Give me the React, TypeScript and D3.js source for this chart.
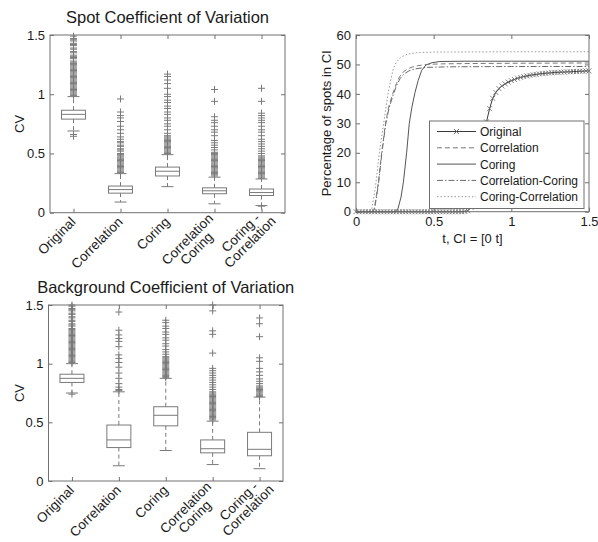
import React, { useEffect, useRef } from "react";
import * as d3 from "d3";

const fontFamily = "'Liberation Sans', Arial, sans-serif";
const frameColor = "#707070";
const markColor = "#7a7a7a";
const textColor = "#1a1a1a";

// box plot categories (multi-line tick labels)
const categoryLabels = [["Original"], ["Correlation"], ["Coring"], ["Correlation", "Coring"], ["Coring -", "Correlation"]];
const cvTicks = [0, 0.5, 1, 1.5];

// Spot coefficient of variation
const spotLow = [0.69, 0.09, 0.22, 0.075, 0.06];
const spotQ1 = [0.79, 0.165, 0.31, 0.16, 0.145];
const spotMedian = [0.83, 0.195, 0.35, 0.185, 0.17];
const spotQ3 = [0.865, 0.225, 0.385, 0.21, 0.2];
const spotHigh = [0.98, 0.33, 0.49, 0.3, 0.285];
const spotOutliers = [
  [0.645, 0.66, 0.99, 1.0, 1.01, 1.02, 1.03, 1.04, 1.05, 1.06, 1.07, 1.08, 1.09, 1.1, 1.11, 1.12, 1.13, 1.14, 1.15, 1.16, 1.17, 1.18, 1.19, 1.2, 1.21, 1.22, 1.23, 1.24, 1.25, 1.26, 1.27, 1.28, 1.3, 1.31, 1.32, 1.33, 1.35, 1.36, 1.38, 1.39, 1.41, 1.42, 1.43, 1.45, 1.46, 1.47, 1.49],
  [0.34, 0.35, 0.36, 0.37, 0.38, 0.39, 0.4, 0.41, 0.42, 0.43, 0.44, 0.45, 0.46, 0.47, 0.48, 0.49, 0.5, 0.52, 0.53, 0.54, 0.56, 0.57, 0.59, 0.6, 0.62, 0.64, 0.67, 0.7, 0.73, 0.77, 0.8, 0.82, 0.85, 0.96],
  [0.5, 0.51, 0.52, 0.53, 0.54, 0.55, 0.56, 0.57, 0.58, 0.59, 0.6, 0.61, 0.62, 0.63, 0.64, 0.65, 0.67, 0.7, 0.73, 0.75, 0.78, 0.8, 0.83, 0.85, 0.88, 0.9, 0.93, 0.95, 0.98, 1.0, 1.05, 1.09, 1.12, 1.15, 1.17],
  [0.31, 0.32, 0.33, 0.34, 0.35, 0.36, 0.37, 0.38, 0.39, 0.4, 0.41, 0.42, 0.43, 0.44, 0.45, 0.46, 0.47, 0.48, 0.49, 0.5, 0.51, 0.53, 0.55, 0.57, 0.59, 0.61, 0.65, 0.68, 0.7, 0.73, 0.76, 0.78, 0.81, 0.94, 1.04],
  [0.055, 0.29, 0.3, 0.31, 0.32, 0.33, 0.34, 0.35, 0.36, 0.37, 0.38, 0.39, 0.4, 0.41, 0.42, 0.43, 0.44, 0.45, 0.46, 0.47, 0.48, 0.5, 0.52, 0.54, 0.56, 0.58, 0.6, 0.62, 0.65, 0.68, 0.7, 0.73, 0.76, 0.78, 0.8, 0.82, 0.84, 0.94, 1.05],
];

// Background coefficient of variation
const bgLow = [0.75, 0.13, 0.26, 0.14, 0.105];
const bgQ1 = [0.84, 0.285, 0.47, 0.24, 0.215];
const bgMedian = [0.875, 0.35, 0.56, 0.275, 0.27];
const bgQ3 = [0.91, 0.477, 0.633, 0.35, 0.415];
const bgHigh = [1.0, 0.76, 0.875, 0.51, 0.715];
const bgOutliers = [
  [0.74, 1.01, 1.02, 1.03, 1.04, 1.05, 1.06, 1.07, 1.08, 1.09, 1.1, 1.11, 1.12, 1.13, 1.14, 1.15, 1.16, 1.17, 1.18, 1.19, 1.2, 1.21, 1.22, 1.23, 1.24, 1.25, 1.26, 1.27, 1.28, 1.29, 1.3, 1.32, 1.33, 1.34, 1.36, 1.37, 1.39, 1.4, 1.42, 1.43, 1.45, 1.46, 1.47, 1.49, 1.5],
  [0.77, 0.78, 0.8, 0.83, 0.875, 0.92, 0.97, 1.01, 1.045, 1.075, 1.145, 1.19, 1.215, 1.245, 1.285, 1.44],
  [0.88, 0.89, 0.9, 0.91, 0.92, 0.93, 0.94, 0.95, 0.96, 0.97, 0.98, 0.99, 1.0, 1.01, 1.02, 1.03, 1.04, 1.05, 1.06, 1.08, 1.1, 1.12, 1.15, 1.17, 1.2, 1.22, 1.25, 1.27, 1.3, 1.32, 1.35, 1.37],
  [0.52, 0.53, 0.54, 0.55, 0.56, 0.57, 0.58, 0.59, 0.6, 0.61, 0.62, 0.63, 0.64, 0.65, 0.66, 0.67, 0.68, 0.69, 0.7, 0.71, 0.72, 0.73, 0.74, 0.75, 0.76, 0.78, 0.8, 0.82, 0.84, 0.86, 0.88, 0.9, 0.92, 0.94, 0.96, 1.09, 1.25, 1.28, 1.45, 1.5],
  [0.72, 0.73, 0.74, 0.75, 0.76, 0.77, 0.78, 0.79, 0.8, 0.81, 0.83, 0.85, 0.87, 0.9, 0.93, 0.96, 1.02, 1.05, 1.23, 1.34, 1.39],
];

// Percentage of spots in CI vs t
const seriesNames = ["Original", "Correlation", "Coring", "Correlation-Coring", "Coring-Correlation"];
const originalT = [0, 0.02, 0.04, 0.06, 0.08, 0.1, 0.12, 0.14, 0.16, 0.18, 0.2, 0.22, 0.24, 0.26, 0.28, 0.3, 0.32, 0.34, 0.36, 0.38, 0.4, 0.42, 0.44, 0.46, 0.48, 0.5, 0.52, 0.54, 0.56, 0.58, 0.6, 0.62, 0.64, 0.66, 0.68, 0.7, 0.72, 0.74, 0.76, 0.78, 0.8, 0.82, 0.84, 0.86, 0.88, 0.9, 0.92, 0.94, 0.96, 0.98, 1.0, 1.02, 1.04, 1.06, 1.08, 1.1, 1.12, 1.14, 1.16, 1.18, 1.2, 1.22, 1.24, 1.26, 1.28, 1.3, 1.32, 1.34, 1.36, 1.38, 1.4, 1.42, 1.44, 1.46, 1.48, 1.5];
const originalPct = [0, 0, 0, 0, 0, 0, 0, 0, 0, 0, 0, 0, 0, 0, 0, 0, 0, 0, 0, 0, 0, 0, 0, 0, 0, 0, 0, 0, 0, 0, 0, 0, 0, 0, 0, 0.1, 0.3, 1.5, 6, 12, 18.5, 25, 30.5, 35, 38.5, 40.5, 41.8, 42.7, 43.4, 44, 44.5, 44.9, 45.3, 45.6, 45.9, 46.1, 46.3, 46.5, 46.6, 46.8, 46.9, 47, 47.1, 47.2, 47.3, 47.3, 47.4, 47.4, 47.5, 47.5, 47.6, 47.6, 47.7, 47.7, 47.8, 47.8];
const correlationT = [0, 0.1, 0.116, 0.13, 0.144, 0.165, 0.19, 0.21, 0.236, 0.26, 0.28, 0.305, 0.33, 0.36, 0.4, 0.455, 0.55, 0.7, 1.0, 1.5];
const correlationPct = [0, 0, 0.5, 5, 10, 20, 30, 35.5, 40, 43.5, 45.8, 47.5, 48.4, 49.1, 49.6, 50, 50.2, 50.3, 50.4, 50.5];
const coringT = [0, 0.25, 0.27, 0.29, 0.305, 0.326, 0.343, 0.36, 0.38, 0.4, 0.423, 0.45, 0.49, 0.54, 0.7, 1.0, 1.5];
const coringPct = [0, 0, 1, 5, 10, 20, 30, 35.5, 40.5, 44.5, 48, 49.8, 50.6, 51, 51.1, 51.1, 51.1];
const corrCoringT = [0, 0.1, 0.118, 0.132, 0.146, 0.167, 0.192, 0.212, 0.238, 0.262, 0.285, 0.31, 0.34, 0.38, 0.45, 0.6, 1.0, 1.5];
const corrCoringPct = [0, 0, 0.5, 5, 10, 20, 30, 35, 39.5, 43, 45.3, 46.8, 47.8, 48.5, 49, 49.2, 49.3, 49.3];
const coringCorrT = [0, 0.09, 0.1, 0.115, 0.129, 0.15, 0.178, 0.206, 0.225, 0.24, 0.26, 0.29, 0.33, 0.39, 0.5, 1.0, 1.5];
const coringCorrPct = [0, 0, 0.5, 5, 10, 20, 30, 40, 45, 48.5, 50.8, 52.5, 53.5, 54, 54.2, 54.3, 54.3];
const pctTicks = [0, 10, 20, 30, 40, 50, 60];
const tTicks = [0, 0.5, 1, 1.5];

function styleAxis(g) {
  g.select(".domain").remove();
  g.selectAll("line").attr("stroke", frameColor);
  g.selectAll("text").attr("fill", textColor).style("font", "13px " + fontFamily);
}

function drawBoxplot(svg, box, title, low, q1, med, q3, high, outliers) {
  const x = d3.scaleLinear().domain([0.5, 5.5]).range([box.left, box.right]);
  const y = d3.scaleLinear().domain([0, 1.5]).range([box.bottom, box.top]);
  const g = svg.append("g");

  g.append("text")
    .attr("x", (box.left + box.right) / 2)
    .attr("y", box.top - 12)
    .attr("text-anchor", "middle")
    .attr("fill", textColor)
    .style("font", "16.5px " + fontFamily)
    .text(title);

  g.append("text")
    .attr("transform", "translate(24," + (box.top + box.bottom) / 2 + ") rotate(-90)")
    .attr("text-anchor", "middle")
    .attr("fill", textColor)
    .style("font", "13px " + fontFamily)
    .text("CV");

  // inner ticks on all sides
  g.append("g").attr("transform", "translate(" + box.left + ",0)")
    .call(d3.axisLeft(y).tickValues(cvTicks).tickSize(-4).tickPadding(5).tickFormat(d3.format("~g")))
    .call(styleAxis);
  g.append("g").attr("transform", "translate(" + box.right + ",0)")
    .call(d3.axisRight(y).tickValues(cvTicks).tickSize(-4).tickFormat(() => ""))
    .call(styleAxis);
  g.append("g").attr("transform", "translate(0," + box.top + ")")
    .call(d3.axisTop(x).tickValues([1, 2, 3, 4, 5]).tickSize(-4).tickFormat(() => ""))
    .call(styleAxis);
  g.append("g").attr("transform", "translate(0," + box.bottom + ")")
    .call(d3.axisBottom(x).tickValues([1, 2, 3, 4, 5]).tickSize(-4).tickFormat(() => ""))
    .call(styleAxis);

  g.append("rect")
    .attr("x", box.left).attr("y", box.top)
    .attr("width", box.right - box.left).attr("height", box.bottom - box.top)
    .attr("fill", "none").attr("stroke", frameColor);

  // rotated category labels: first line ends at the tick, lines centred on each other
  categoryLabels.forEach((lines, i) => {
    const lab = g.append("g")
      .attr("transform", "translate(" + (x(i + 1) + 3) + "," + (box.bottom + 10) + ") rotate(-45)");
    const texts = lines.map((line) => lab.append("text")
      .attr("fill", textColor)
      .attr("text-anchor", "middle")
      .style("font", "13.5px " + fontFamily)
      .text(line));
    const firstWidth = texts[0].node().getComputedTextLength();
    const shift = lines.length > 1 ? -5 : 0;
    texts.forEach((t, j) => {
      t.attr("x", -firstWidth / 2).attr("y", shift + j * 13);
    });
  });

  const bw = 24;
  const cw = 12;
  d3.range(5).forEach((i) => {
    const cx = x(i + 1);
    const c = g.append("g").attr("stroke", markColor).attr("fill", "none");
    c.append("line").attr("x1", cx).attr("x2", cx).attr("y1", y(q3[i])).attr("y2", y(high[i])).attr("stroke-dasharray", "4,3");
    c.append("line").attr("x1", cx).attr("x2", cx).attr("y1", y(q1[i])).attr("y2", y(low[i])).attr("stroke-dasharray", "4,3");
    c.append("line").attr("x1", cx - cw / 2).attr("x2", cx + cw / 2).attr("y1", y(high[i])).attr("y2", y(high[i]));
    c.append("line").attr("x1", cx - cw / 2).attr("x2", cx + cw / 2).attr("y1", y(low[i])).attr("y2", y(low[i]));
    c.append("rect").attr("x", cx - bw / 2).attr("y", y(q3[i])).attr("width", bw).attr("height", y(q1[i]) - y(q3[i]));
    c.append("line").attr("x1", cx - bw / 2).attr("x2", cx + bw / 2).attr("y1", y(med[i])).attr("y2", y(med[i]));
    c.selectAll("path.out")
      .data(outliers[i])
      .enter()
      .append("path")
      .attr("class", "out")
      .attr("d", (d) => "M" + (cx - 3.5) + "," + y(d) + "h7M" + cx + "," + (y(d) - 3.5) + "v7");
  });
}

function drawCurves(svg) {
  const box = { left: 356, right: 589, top: 35, bottom: 211.7 };
  const x = d3.scaleLinear().domain([0, 1.5]).range([box.left, box.right]);
  const y = d3.scaleLinear().domain([0, 60]).range([box.bottom, box.top]);
  const g = svg.append("g");

  g.append("g").attr("transform", "translate(" + box.left + ",0)")
    .call(d3.axisLeft(y).tickValues(pctTicks).tickSize(-4).tickPadding(5))
    .call(styleAxis);
  g.append("g").attr("transform", "translate(" + box.right + ",0)")
    .call(d3.axisRight(y).tickValues(pctTicks).tickSize(-4).tickFormat(() => ""))
    .call(styleAxis);
  g.append("g").attr("transform", "translate(0," + box.bottom + ")")
    .call(d3.axisBottom(x).tickValues(tTicks).tickSize(-4).tickPadding(5).tickFormat(d3.format("~g")))
    .call(styleAxis);
  g.append("g").attr("transform", "translate(0," + box.top + ")")
    .call(d3.axisTop(x).tickValues(tTicks).tickSize(-4).tickFormat(() => ""))
    .call(styleAxis);

  g.append("text")
    .attr("x", (box.left + box.right) / 2)
    .attr("y", 243)
    .attr("text-anchor", "middle")
    .attr("fill", textColor)
    .style("font", "13px " + fontFamily)
    .text("t, CI = [0 t]");
  g.append("text")
    .attr("transform", "translate(331," + (box.top + box.bottom) / 2 + ") rotate(-90)")
    .attr("text-anchor", "middle")
    .attr("fill", textColor)
    .style("font", "13px " + fontFamily)
    .text("Percentage of spots in CI");

  const series = [
    { t: originalT, v: originalPct, color: "#3a3a3a", dash: null, marker: true },
    { t: correlationT, v: correlationPct, color: "#7a7a7a", dash: "5,3", marker: false },
    { t: coringT, v: coringPct, color: "#555", dash: null, marker: false },
    { t: corrCoringT, v: corrCoringPct, color: "#6a6a6a", dash: "6,2,1.5,2", marker: false },
    { t: coringCorrT, v: coringCorrPct, color: "#9a9a9a", dash: "1.5,2", marker: false },
  ];
  const line = d3.line().x((d) => x(d[0])).y((d) => y(d[1]));
  const xMark = (px, py) => "M" + (px - 2.5) + "," + (py - 2.5) + "l5,5M" + (px - 2.5) + "," + (py + 2.5) + "l5,-5";

  const curves = g.append("g");
  series.slice().reverse().forEach((s) => {
    const pts = s.t.map((t, i) => [t, s.v[i]]);
    curves.append("path")
      .attr("d", line(pts))
      .attr("fill", "none")
      .attr("stroke", s.color)
      .attr("stroke-width", 1)
      .attr("stroke-dasharray", s.dash);
    if (s.marker) {
      curves.append("path")
        .attr("d", pts.map((p) => xMark(x(p[0]), y(p[1]))).join(""))
        .attr("fill", "none")
        .attr("stroke", "#6a6a6a")
        .attr("stroke-width", 0.8);
    }
  });

  g.append("rect")
    .attr("x", box.left).attr("y", box.top)
    .attr("width", box.right - box.left).attr("height", box.bottom - box.top)
    .attr("fill", "none").attr("stroke", frameColor);

  // legend
  const lg = g.append("g");
  lg.append("rect")
    .attr("x", 429.5).attr("y", 121)
    .attr("width", 154.5).attr("height", 87.5)
    .attr("fill", "white").attr("stroke", frameColor);
  series.forEach((s, i) => {
    const ly = 131.5 + i * 16.3;
    lg.append("line")
      .attr("x1", 437).attr("x2", 476).attr("y1", ly).attr("y2", ly)
      .attr("stroke", s.color).attr("stroke-dasharray", s.dash);
    if (s.marker) {
      lg.append("path").attr("d", xMark(456.5, ly)).attr("stroke", "#6a6a6a").attr("fill", "none");
    }
    lg.append("text")
      .attr("x", 480).attr("y", ly + 4.5)
      .attr("fill", textColor)
      .style("font", "12px " + fontFamily)
      .text(seriesNames[i]);
  });
}

export default function App() {
  const ref = useRef(null);

  useEffect(() => {
    const svg = d3.select(ref.current);
    svg.selectAll("*").remove();
    svg.append("rect").attr("width", 598).attr("height", 542).attr("fill", "white");
    drawBoxplot(svg, { left: 50, right: 285, top: 35, bottom: 212.7 }, "Spot Coefficient of Variation",
      spotLow, spotQ1, spotMedian, spotQ3, spotHigh, spotOutliers);
    drawBoxplot(svg, { left: 48.5, right: 283, top: 305, bottom: 481 }, "Background Coefficient of Variation",
      bgLow, bgQ1, bgMedian, bgQ3, bgHigh, bgOutliers);
    drawCurves(svg);
  }, []);

  return (
    <svg
      ref={ref}
      width={598}
      height={542}
      style={{ position: "absolute", left: 0, top: 0 }}
    />
  );
}
